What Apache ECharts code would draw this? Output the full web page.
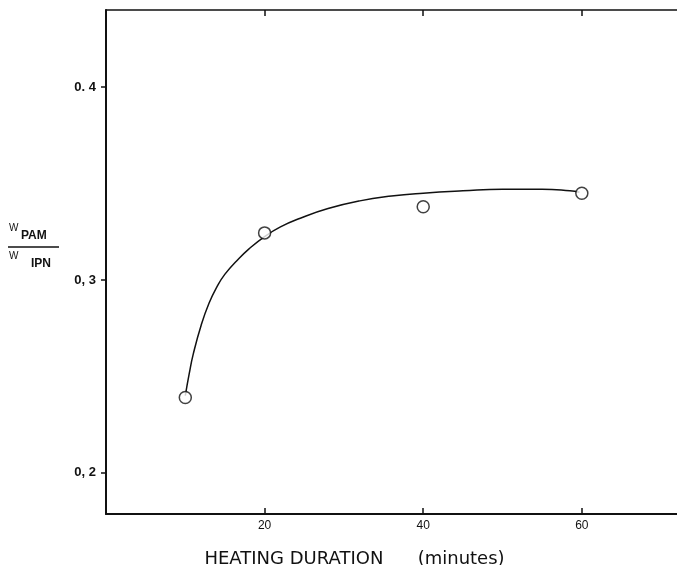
<!DOCTYPE html>
<html>
<head>
<meta charset="utf-8">
<script src="https://cdn.jsdelivr.net/npm/echarts@6/dist/echarts.min.js"></script>
<style>
html, body { margin: 0; padding: 0; background: #fff; }
#container { width: 677px; height: 565px; }
</style>
</head>
<body>
<div id="container"></div>
<script>
// measured points (heating duration in minutes, W_PAM / W_IPN)
var pointX = [10, 20, 40, 60];
var pointY = [0.239, 0.3244, 0.338, 0.345];

// hand drawn fit curve
var curveX = [10, 10.5, 11, 12, 13, 14, 15, 16.5, 18, 20, 22, 24.5, 28, 32, 36, 40, 45, 50, 55, 58.5, 59.7];
var curveY = [0.240, 0.2515, 0.2615, 0.2765, 0.288, 0.2965, 0.303, 0.310, 0.316, 0.3225, 0.3275, 0.332, 0.337, 0.341, 0.3435, 0.345, 0.3462, 0.347, 0.347, 0.3462, 0.3455];

var xTicks = [20, 40, 60];
var yTicks = [0.2, 0.3, 0.4];
var yTickLabels = ['0, 2', '0, 3', '0. 4'];

$init();

function $init() {
    var ink = '#111';
    var font = '"Liberation Sans", Arial, sans-serif';
    var wide = '"DejaVu Sans", sans-serif';

    var points = [];
    for (var i = 0; i < pointX.length; i++) {
        points.push([pointX[i], pointY[i]]);
    }
    var curve = [];
    for (var j = 0; j < curveX.length; j++) {
        curve.push([curveX[j], curveY[j]]);
    }

    var myChart = echarts.init(document.getElementById('container'));
    var option = {
        animation: false,
        backgroundColor: '#fff',
        grid: {left: 106, top: 10, right: 0, bottom: 51, containLabel: false, outerBoundsMode: 'none'},
        xAxis: [
            {
                type: 'value', position: 'bottom', min: 0, max: 72,
                splitLine: {show: false},
                axisLine: {lineStyle: {color: ink, width: 2}},
                axisTick: {inside: true, length: 6, customValues: xTicks, lineStyle: {color: ink, width: 1.5}},
                axisLabel: {
                    customValues: xTicks, margin: 6, color: ink,
                    fontFamily: font, fontSize: 12
                },
                name: 'HEATING DURATION      (minutes)',
                nameLocation: 'middle', nameGap: 36,
                nameTextStyle: {color: ink, fontFamily: wide, fontSize: 18, padding: [0, 74, 0, 0]}
            },
            {
                type: 'value', position: 'top', min: 0, max: 72,
                splitLine: {show: false},
                axisLine: {lineStyle: {color: ink, width: 1.5}},
                axisTick: {inside: true, length: 6, customValues: xTicks, lineStyle: {color: ink, width: 1.5}},
                axisLabel: {show: false}
            }
        ],
        yAxis: [
            {
                type: 'value', position: 'left', min: 0.1786, max: 0.44,
                splitLine: {show: false},
                axisLine: {lineStyle: {color: ink, width: 2}},
                axisTick: {inside: false, length: 5, customValues: yTicks, lineStyle: {color: ink, width: 1.5}},
                axisLabel: {
                    customValues: yTicks, margin: 10, color: ink,
                    fontFamily: font, fontSize: 13, fontWeight: 'bold',
                    formatter: function (v) {
                        for (var k = 0; k < yTicks.length; k++) {
                            if (Math.abs(yTicks[k] - v) < 1e-6) return yTickLabels[k];
                        }
                        return '';
                    }
                }
            },
            {
                type: 'value', position: 'right', min: 0.1786, max: 0.44,
                splitLine: {show: false},
                axisLine: {show: false},
                axisTick: {inside: true, length: 4, customValues: yTicks, lineStyle: {color: ink, width: 1.5}},
                axisLabel: {show: false}
            }
        ],
        graphic: [
            {type: 'text', left: 9, top: 223, style: {text: 'W', fill: ink, font: '10px ' + font}},
            {type: 'text', left: 21, top: 230, style: {text: 'PAM', fill: ink, font: 'bold 12px ' + font}},
            {type: 'line', shape: {x1: 8, y1: 247, x2: 59, y2: 247}, style: {stroke: ink, lineWidth: 1.5}},
            {type: 'text', left: 9, top: 251, style: {text: 'W', fill: ink, font: '10px ' + font}},
            {type: 'text', left: 31, top: 258, style: {text: 'IPN', fill: ink, font: 'bold 12px ' + font}}
        ],
        series: [
            {
                type: 'line', data: curve, smooth: 0.5,
                showSymbol: false, symbol: 'none',
                lineStyle: {color: ink, width: 1.5},
                z: 2
            },
            {
                type: 'scatter', data: points,
                symbol: 'circle', symbolSize: 12,
                itemStyle: {color: '#fff', borderColor: ink, borderWidth: 1.5},
                z: 3
            }
        ]
    };

    myChart.setOption(option);
}
</script>
</body>
</html>
